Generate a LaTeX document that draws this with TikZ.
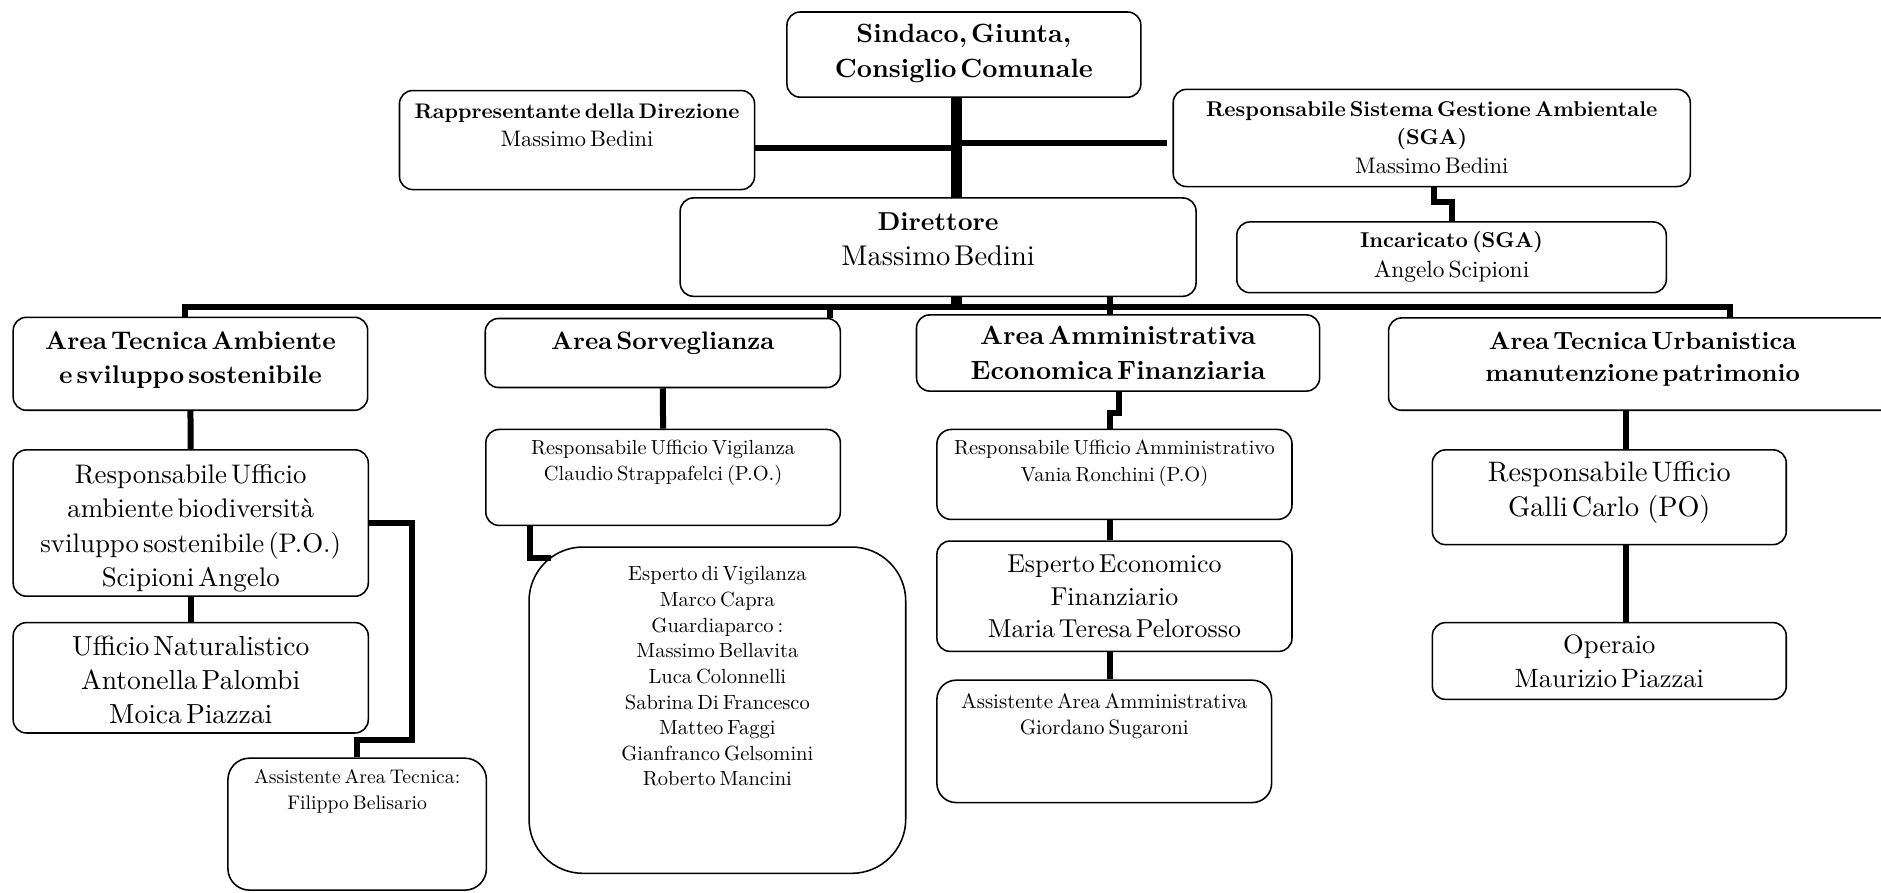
\documentclass[tikz,border=0pt]{standalone}
\usepackage{fontspec}
\setmainfont{lmroman10-regular.otf}[BoldFont=lmroman10-bold.otf, WordSpace=1.3]
\tikzset{
  box/.style={draw, line width=1.3pt, rounded corners=11pt, inner sep=0pt},
  conn/.style={line width=5pt},
  trunk/.style={line width=9pt},
  txt/.style={inner sep=0pt, align=center},
}
\newcommand{\boxlabel}[4]{\node[txt, text width=#3, anchor=north] (#1t) at ([yshift=-#2]#1.north) {#4\par};}
\newcommand{\fs}[2]{\fontsize{#1}{#2}\selectfont}
\begin{document}
\begin{tikzpicture}[x=1pt,y=-1pt]
\useasboundingbox (0,0) rectangle (1568,744);
\fill[white] (0,0) rectangle (1568,744);
\clip (0,0) rectangle (1568,744);

% boxes
\node[box, minimum width=295pt, minimum height=71pt] (sind) at (803.5,45.5) {};
\node[box, minimum width=296pt, minimum height=82.5pt] (rapp) at (481,116.75) {};
\node[box, minimum width=431pt, minimum height=81pt] (sga) at (1193.5,115) {};
\node[box, minimum width=430pt, minimum height=82pt] (dir) at (782,206) {};
\node[box, minimum width=358pt, minimum height=59pt] (inc) at (1210,214.5) {};
\node[box, minimum width=295.5pt, minimum height=77.5pt] (ata) at (158.75,303.25) {};
\node[box, minimum width=296pt, minimum height=57.5pt] (aso) at (552.5,294.25) {};
\node[box, minimum width=336pt, minimum height=63.5pt] (aam) at (932,294.25) {};
\node[box, minimum width=423.5pt, minimum height=77pt] (atu) at (1369.25,303.5) {};
\node[box, minimum width=296pt, minimum height=122pt] (rua) at (159,436) {};
\node[box, minimum width=296pt, minimum height=92pt] (unat) at (159,565) {};
\node[box, rounded corners=18pt, minimum width=215.5pt, minimum height=110pt] (aat) at (297.75,687) {};
\node[box, minimum width=295.5pt, minimum height=80pt] (ruv) at (552.75,398) {};
\node[box, rounded corners=45pt, minimum width=314pt, minimum height=272pt] (esp) at (598,592) {};
\node[box, rounded corners=12pt, minimum width=296pt, minimum height=75pt] (rum) at (929,395.5) {};
\node[box, minimum width=296pt, minimum height=92pt] (eef) at (929,497) {};
\node[box, rounded corners=16pt, minimum width=279pt, minimum height=102pt] (aaa) at (920.5,618) {};
\node[box, minimum width=295pt, minimum height=79pt] (rug) at (1341.5,414.5) {};
\node[box, minimum width=295pt, minimum height=64pt] (ope) at (1341.5,551) {};

% texts
\boxlabel{sind}{4.8pt}{290pt}{\bfseries\fs{22}{29.7}\strut Sindaco, Giunta,\\Consiglio Comunale}
\boxlabel{rapp}{7.8pt}{290pt}{\fs{18.7}{23}\strut{\bfseries\fs{17.6}{23}Rappresentante della Direzione}\\Massimo Bedini}
\boxlabel{sga}{5.9pt}{425pt}{\fs{18.75}{24}\strut{\bfseries\fs{17.8}{24}Responsabile Sistema Gestione Ambientale}\\{\bfseries\fs{17.8}{24}(SGA)}\\Massimo Bedini}
\boxlabel{inc}{4.5pt}{350pt}{\fs{19.5}{25}\strut{\bfseries\fs{17.9}{25}Incaricato (SGA)}\\Angelo Scipioni}
\boxlabel{dir}{7.7pt}{420pt}{\fs{23.8}{29}\strut{\bfseries\fs{21.6}{29}Direttore}\\Massimo Bedini}
\boxlabel{ata}{7.4pt}{290pt}{\bfseries\fs{21.3}{28.3}\strut Area Tecnica Ambiente\\e sviluppo sostenibile}
\boxlabel{aso}{6.6pt}{290pt}{\bfseries\fs{21}{28}\strut Area Sorveglianza}
\boxlabel{aam}{4.6pt}{330pt}{\bfseries\fs{22}{29.2}\strut Area Amministrativa\\Economica Finanziaria}
\boxlabel{atu}{8.15pt}{415pt}{\bfseries\fs{20.8}{26.5}\strut Area Tecnica Urbanistica\\manutenzione patrimonio}
\boxlabel{rua}{8.2pt}{292pt}{\fs{22.4}{28.7}\strut Responsabile Ufficio\\ambiente biodiversità\\sviluppo sostenibile (P.O.)\\Scipioni Angelo}
\boxlabel{unat}{7.9pt}{292pt}{\fs{23}{28.3}\strut Ufficio Naturalistico\\Antonella Palombi\\Moica Piazzai}
\boxlabel{aat}{6.1pt}{210pt}{\fs{16.4}{21.7}\strut Assistente Area Tecnica:\\Filippo Belisario}
\boxlabel{ruv}{6.1pt}{290pt}{\fs{17}{21.6}\strut Responsabile Ufficio Vigilanza\\Claudio Strappafelci (P.O.)}
\boxlabel{esp}{13.75pt}{300pt}{\fs{17.1}{21.36}\strut Esperto di Vigilanza\\Marco Capra\\Guardiaparco :\\Massimo Bellavita\\Luca Colonnelli\\Sabrina Di Francesco\\Matteo Faggi\\Gianfranco Gelsomini\\Roberto Mancini}
\boxlabel{rum}{5.7pt}{292pt}{\fs{17}{22.2}\strut Responsabile Ufficio Amministrativo\\Vania Ronchini (P.O)}
\boxlabel{eef}{7.8pt}{292pt}{\fs{21.6}{27.1}\strut Esperto Economico\\Finanziario\\Maria Teresa Pelorosso}
\boxlabel{aaa}{9.1pt}{275pt}{\fs{17.4}{21.4}\strut Assistente Area Amministrativa\\Giordano Sugaroni}
\boxlabel{rug}{6pt}{290pt}{\fs{23.5}{29.2}\strut Responsabile Ufficio\\Galli Carlo\ \ (PO)}
\boxlabel{ope}{6pt}{290pt}{\fs{22.1}{28.6}\strut Operaio\\Maurizio Piazzai}

% junction coordinates
\coordinate (tA) at (797.5,123.5);
\coordinate (tB) at (797.5,119);
\coordinate (tBe) at (973,119);
\coordinate (bL) at (154.5,255.5);
\coordinate (bS) at (692,255.5);
\coordinate (bD) at (797.5,255.5);
\coordinate (bR) at (1442,255.5);
\coordinate (k1) at (343.5,617);
\coordinate (k2) at (459,465);
\coordinate (k3) at (442,465);
\coordinate (k4) at (925,344.4);
\coordinate (k5) at (1355,400);

% connectors
\draw[trunk] (sind.south -| tA) -- (dir.north -| tA);
\draw[conn] (rapp.east |- tA) -- (tA);
\draw[conn] (tB) -- (tBe);
\draw[conn] ([xshift=1.5pt]sga.south) -- ++(0,12.5) -| (inc.north);
\draw[trunk] (dir.south -| bD) -- (bD);
\draw[conn] (ata.north -| bL) -- (bL) -- (bR) -- (atu.north -| bR);
\draw[conn] (bS) -- (aso.north -| bS);
\draw[conn] (dir.south -| k4) -- (aam.north -| k4);
\draw[conn] (ata.south) -- (rua.north);
\draw[conn] (rua.south) -- (unat.north);
\draw[conn] (rua.east) -| (k1) -| (aat.north);
\draw[conn] (aso.south) -- (ruv.north);
\draw[conn] (ruv.south -| k3) -- (k3) -- (k2);
\draw[conn] ([xshift=1pt]aam.south) |- (k4) -- (rum.north -| k4);
\draw[conn] (rum.south -| k4) -- (eef.north -| k4);
\draw[conn] (eef.south -| k4) -- (aaa.north -| k4);
\draw[conn] (atu.south -| k5) -- (rug.north -| k5);
\draw[conn] (rug.south -| k5) -- (ope.north -| k5);
\end{tikzpicture}
\end{document}
